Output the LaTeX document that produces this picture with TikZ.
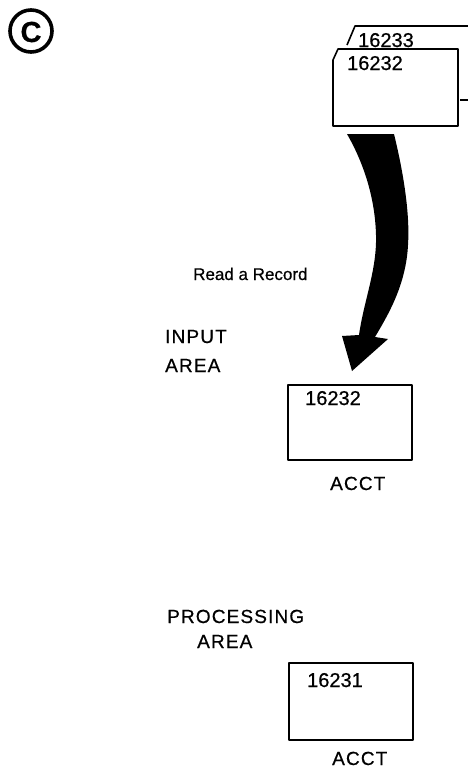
\documentclass[tikz,border=0pt]{standalone}
\usepackage{fontspec}
\setmainfont[FakeBold=0.6]{Liberation Sans}
\usepackage{tikz}
\usepackage{xcolor}

\newcommand{\numsize}{\fontsize{20}{24}\selectfont}
\newcommand{\capsize}{\fontsize{19}{23}\selectfont\addfontfeature{LetterSpace=6}}
\tikzset{
	card/.style={line width=1.6pt, line join=round},
	lbl/.style={anchor=base west, inner sep=0pt, font=\numsize},
	capslbl/.style={anchor=base west, inner sep=0pt, font=\capsize}
}

\begin{document}
\begin{tikzpicture}[x=1pt,y=-1pt]
			\useasboundingbox (0,0) rectangle (468,772);
			\draw[line width=3.6pt] (31,31) circle (21);
			\node[inner sep=0pt, font=\fontsize{29}{30}\selectfont\bfseries] (mark) at (31,32) {C};
			\draw[card] (347,45) -- (355,26) -- (468,26);
			\draw[card] (460,100) -- (468,100);
			\draw[card] (338,49) -- (458,49) -- (458,126) -- (333,126) -- (333,60) -- cycle;
			\node[lbl] (next) at (358,47) {16233};
			\node[lbl] (curr) at (347,70) {16232};
			\fill (347,134) -- (394,134) .. controls (404,175) and (410,215) .. (408,245)
				.. controls (406,285) and (388,315) .. (375,337) -- (388,339) -- (352,371)
				-- (342,336) -- (359,335) .. controls (364,300) and (377,270) .. (376,235)
				.. controls (375,195) and (362,160) .. (347,134) -- cycle;
			\node[anchor=base west, inner sep=0pt, font=\fontsize{17}{20}\selectfont] (read) at (193,280) {Read a Record};
			\node[capslbl] (inlbl) at (165,343) {INPUT};
			\node[capslbl] (inarea) at (165,372) {AREA};
			\draw[card] (288,385) rectangle (412,460);
			\node[lbl] (inrec) at (305,405) {16232};
			\node[capslbl] (inacct) at (330,490) {ACCT};
			\node[capslbl] (prlbl) at (167,623) {PROCESSING};
			\node[capslbl] (prarea) at (197,648) {AREA};
			\draw[card] (289,663) rectangle (413,740);
			\node[lbl] (prrec) at (307,687) {16231};
			\node[capslbl] (pracct) at (332,765) {ACCT};
		\end{tikzpicture}
\end{document}
